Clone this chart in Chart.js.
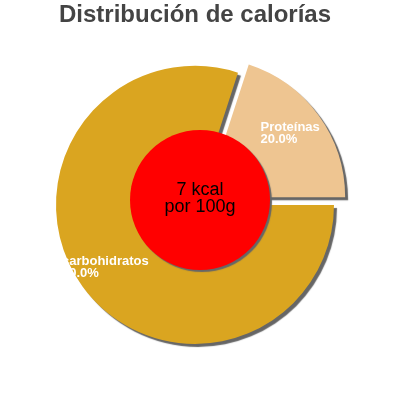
<!DOCTYPE html>
<html>
<head>
<meta charset="utf-8">
<script src="https://cdn.jsdelivr.net/npm/chart.js@4"></script>
<style>
  html, body { margin: 0; padding: 0; background: #fff; }
  #wrap { width: 400px; height: 400px; }
</style>
</head>
<body>
<div id="wrap"><canvas id="grafico"></canvas></div>
<script>
const categorias = ['Proteínas', 'carbohidratos'];
const valores = [20, 80];
const colores = ['#EEC591', '#DAA520'];
// Chart.js divide el offset del arco entre 4 al dibujar
const desplazamientos = [52, 0];
const titulo = 'Distribución de calorías';
const textoCentro = ['7 kcal', 'por 100g'];

// sombra gris bajo las porciones
const sombra = {
    id: 'sombra',
    beforeDatasetsDraw(chart) {
        const ctx = chart.ctx;
        ctx.save();
        ctx.shadowColor = '#666';
        ctx.shadowOffsetX = 3;
        ctx.shadowOffsetY = 3;
        ctx.shadowBlur = 1;
    },
    afterDatasetsDraw(chart) {
        chart.ctx.restore();
    }
};

// etiquetas blancas dentro de cada porcion + circulo rojo central
const etiquetas = {
    id: 'etiquetas',
    afterDatasetsDraw(chart) {
        const ctx = chart.ctx;
        const meta = chart.getDatasetMeta(0);
        const total = valores.reduce((a, b) => a + b, 0);
        ctx.save();
        ctx.font = 'bold 13px "Liberation Sans", Arial, sans-serif';
        ctx.fillStyle = '#fff';
        ctx.textBaseline = 'middle';
        ctx.textAlign = 'left';
        meta.data.forEach((arc, i) => {
            const mid = (arc.startAngle + arc.endAngle) / 2;
            const dist = (arc.options.offset || 0) / 4 + arc.outerRadius * 0.775;
            const ax = arc.x + Math.cos(mid) * dist;
            const ay = arc.y + Math.sin(mid) * dist;
            const lineas = [categorias[i], (valores[i] / total * 100).toFixed(1) + '%'];
            const ancho = Math.max(...lineas.map(l => ctx.measureText(l).width));
            const x0 = ax - ancho / 2 - 2.5;
            ctx.fillText(lineas[0], x0, ay - 7);
            ctx.fillText(lineas[1], x0, ay + 5);
        });
        ctx.restore();

        // circulo central
        const cx = chart.width / 2;
        const cy = chart.height / 2;
        ctx.save();
        ctx.shadowColor = '#666';
        ctx.shadowOffsetX = 2;
        ctx.shadowOffsetY = 2;
        ctx.shadowBlur = 1;
        ctx.beginPath();
        ctx.arc(cx, cy, 70, 0, Math.PI * 2);
        ctx.fillStyle = '#FF0000';
        ctx.fill();
        ctx.restore();

        ctx.save();
        ctx.fillStyle = '#000';
        ctx.font = '18px "Liberation Sans", Arial, sans-serif';
        ctx.textAlign = 'center';
        ctx.textBaseline = 'alphabetic';
        ctx.fillText(textoCentro[0], cx, cy - 5);
        ctx.fillText(textoCentro[1], cx, cy + 12);
        ctx.restore();
    }
};

new Chart(document.getElementById('grafico'), {
    type: 'pie',
    data: {
        labels: categorias,
        datasets: [{
            data: valores,
            backgroundColor: colores,
            offset: desplazamientos,
            borderWidth: 0,
            clip: false
        }]
    },
    options: {
        responsive: true,
        maintainAspectRatio: false,
        animation: false,
        events: [],
        rotation: 18,
        radius: 139,
        layout: {
            padding: { left: 0, right: 10, top: 0, bottom: 30 }
        },
        plugins: {
            legend: { display: false },
            tooltip: { enabled: false },
            title: {
                display: true,
                text: titulo,
                color: '#444',
                font: { family: '"Liberation Sans", Arial, sans-serif', size: 24, weight: 'bold' },
                padding: { top: 1, bottom: 10 }
            }
        }
    },
    plugins: [sombra, etiquetas]
});
</script>
</body>
</html>
